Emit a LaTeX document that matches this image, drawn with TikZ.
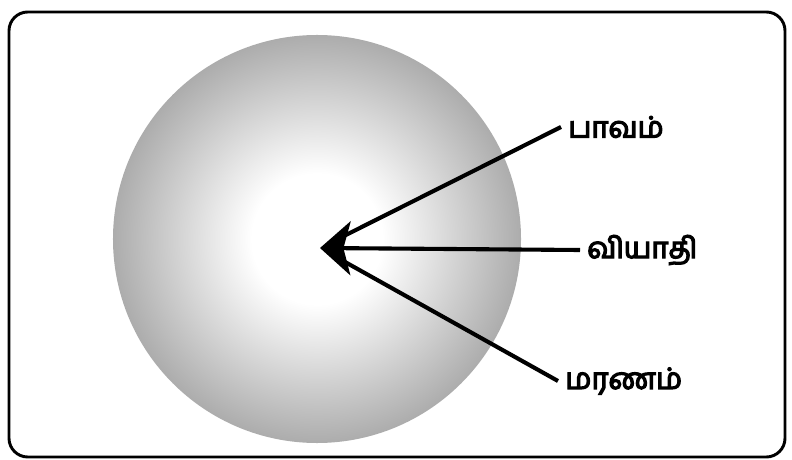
\documentclass[tikz,border=0pt]{standalone}
\usepackage{fontspec}
\newfontfamily\tamilfont[Script=Tamil]{Hind Madurai}
\usetikzlibrary{arrows.meta}
\pgfdeclareradialshading{globo}{\pgfpoint{0bp}{0bp}}{color(0bp)=(white); color(8bp)=(white); color(30bp)=(black!42); color(50bp)=(black!58)}
% texto grueso: relleno y contorno
\newcommand\gruesa[1]{\special{pdf:literal direct 2 Tr 1.1 w}#1\special{pdf:literal direct 0 Tr 0.4 w}}
\begin{document}
\begin{tikzpicture}[x=0.03cm, y=-0.03cm,
  etiqueta/.style={anchor=west, inner sep=6pt, font=\tamilfont\fontsize{25}{30}\selectfont},
  linea/.style={line width=3.5pt, shorten >=14pt},
  flecha/.style={line width=3.5pt, -{Stealth[length=26pt, width=46pt, inset=6pt]}}]
  \useasboundingbox (0,0) rectangle (792,460);
  % marco
  \draw[line width=2.5pt, rounded corners=16pt] (9,12) rectangle (785,457);
  % esfera
  \shade[shading=globo] (317,239) circle (6.12cm);
  % etiquetas
  \coordinate (punta) at (320,248);
  \node[etiqueta] (paavam) at (561,127) {\gruesa{பாவம்}};
  \node[etiqueta] (viyaathi) at (580,250) {\gruesa{வியாதி}};
  \node[etiqueta] (maranam) at (558,381) {\gruesa{மரணம்}};
  % flechas
  \draw[linea] (paavam.west) -- (punta);
  \draw[linea] (maranam.west) -- (punta);
  \draw[flecha] (viyaathi.west) -- (punta);
\end{tikzpicture}
\end{document}
